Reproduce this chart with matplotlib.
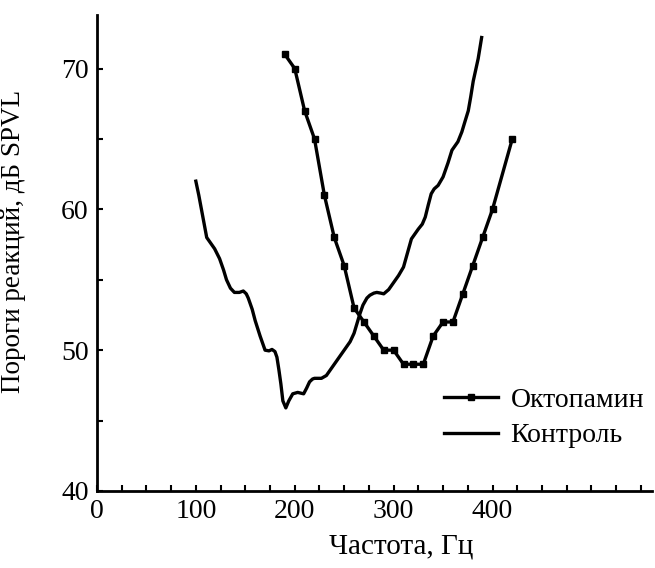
import matplotlib.pyplot as plt

# Octopamine thresholds (measured points, square markers)
octo_freq = [190, 200, 210, 220, 230, 240, 250, 260, 270, 280, 290, 300,
             310, 320, 330, 340, 350, 360, 370, 380, 390, 400, 420]
octo_level = [71, 70, 67, 65, 61, 58, 56, 53, 52, 51, 50, 50,
              49, 49, 49, 51, 52, 52, 54, 56, 58, 60, 65]

# Control thresholds (continuous trace)
ctrl_freq = [100, 103, 107, 111, 115, 119, 124, 128, 131, 135, 139, 144,
             148, 151, 153, 157, 160, 165, 170, 174, 177, 180, 182, 184,
             186, 188, 191, 194, 198, 203, 206, 209, 212, 215, 218, 220,
             224, 227, 232, 239, 246, 251, 256, 260, 263, 266, 269, 273,
             276, 280, 283, 287, 290, 295, 300, 305, 310, 314, 318, 322,
             325, 329, 332, 335, 338, 341, 345, 350, 355, 359, 362, 365,
             369, 372, 375.5, 378, 380.5, 383, 385.5, 389]
ctrl_level = [62.0, 61.0, 59.5, 58.0, 57.6, 57.2, 56.5, 55.7, 55.0, 54.4, 54.1, 54.1,
              54.2, 54.0, 53.7, 52.9, 52.1, 51.0, 50.0, 49.95, 50.05, 49.9, 49.5, 48.6,
              47.6, 46.4, 45.9, 46.4, 46.9, 47.0, 46.95, 46.9, 47.3, 47.75, 47.95, 48.0,
              48.0, 48.0, 48.2, 48.9, 49.6, 50.1, 50.6, 51.2, 51.9, 52.6, 53.2, 53.7,
              53.9, 54.05, 54.1, 54.05, 54.0, 54.3, 54.8, 55.3, 55.9, 56.9, 57.9, 58.3,
              58.6, 58.95, 59.45, 60.3, 61.1, 61.45, 61.7, 62.3, 63.3, 64.2, 64.5, 64.8,
              65.5, 66.2, 67.0, 68.0, 69.1, 69.9, 70.7, 72.2]

x_ticks = list(range(0, 551, 25))
x_labels = [str(t) if t % 100 == 0 and t <= 400 else '' for t in x_ticks]
y_ticks = list(range(40, 71, 5))
y_labels = [str(t) if t % 10 == 0 else '' for t in y_ticks]


def create_plot():
    plt.rcParams['font.family'] = 'Liberation Serif'
    fig = plt.figure(figsize=(6.55, 5.68), dpi=100)
    ax = fig.add_axes([0.148, 0.1356, 0.847, 0.838])

    ax.plot(octo_freq, octo_level, color='black', linewidth=2.4,
            marker='s', markersize=4.5, label='Октопамин')
    ax.plot(ctrl_freq, ctrl_level, color='black', linewidth=2.4,
            solid_joinstyle='round', label='Контроль')

    ax.set_xlim(0, 561)
    ax.set_ylim(40, 73.8)
    ax.spines['top'].set_visible(False)
    ax.spines['right'].set_visible(False)
    for side in ['left', 'bottom']:
        ax.spines[side].set_linewidth(2)

    ax.set_xticks(x_ticks)
    ax.set_xticklabels(x_labels)
    ax.set_yticks(y_ticks)
    ax.set_yticklabels(y_labels)
    ax.tick_params(direction='in', length=4, width=1.5, labelsize=20)
    ax.tick_params(axis='x', pad=6)
    ax.tick_params(axis='y', pad=6)

    ax.set_xlabel('Частота, Гц', fontsize=21)
    ax.xaxis.set_label_coords(0.548, -0.09)
    ax.set_ylabel('Пороги реакций, дБ SPVL', fontsize=19.5)
    ax.yaxis.set_label_coords(-0.128, 0.525)

    ax.legend(loc='center left', bbox_to_anchor=(0.64, 0.264),
              bbox_transform=fig.transFigure, frameon=False, fontsize=20,
              handlelength=1.94, handletextpad=0.45, labelspacing=0.35)

    fig.savefig('out.png', dpi=100)


def main():
    create_plot()


if __name__ == "__main__":
    main()
